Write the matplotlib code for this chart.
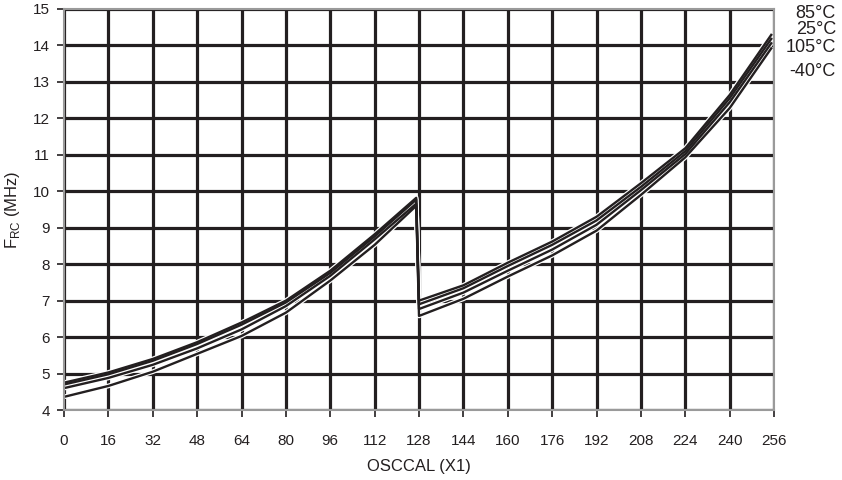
import matplotlib
matplotlib.use("Agg")
import matplotlib.pyplot as plt

plt.rcParams['font.family'] = ['Liberation Sans', 'DejaVu Sans']

# OSCCAL values (two ranges; the frequency drops back at 128)
osccal = [0, 16, 32, 48, 64, 80, 96, 112, 127,
          128, 144, 160, 176, 192, 208, 224, 240, 255]

freq_85 = [4.75, 5.03, 5.40, 5.86, 6.40, 7.00, 7.82, 8.82, 9.82,
           7.00, 7.42, 8.04, 8.62, 9.30, 10.22, 11.18, 12.64, 14.29]
freq_25 = [4.70, 4.98, 5.35, 5.81, 6.34, 6.95, 7.76, 8.76, 9.77,
           6.90, 7.34, 7.95, 8.53, 9.20, 10.12, 11.10, 12.55, 14.18]
freq_105 = [4.60, 4.88, 5.24, 5.69, 6.21, 6.85, 7.68, 8.68, 9.66,
            6.77, 7.22, 7.82, 8.40, 9.08, 10.03, 11.02, 12.44, 14.06]
freq_m40 = [4.36, 4.66, 5.05, 5.54, 6.03, 6.67, 7.55, 8.53, 9.60,
            6.58, 7.05, 7.66, 8.24, 8.92, 9.90, 10.93, 12.28, 13.92]

series = [freq_85, freq_25, freq_105, freq_m40]
labels = ['85°C', '25°C', '105°C', '-40°C']
label_y_px = [13, 30, 47, 72]

xticks = list(range(0, 257, 16))
yticks = list(range(4, 16))

ink = '#231f20'

fig = plt.figure(figsize=(8.42, 4.8), dpi=100)
ax = fig.add_axes([64/842, 1 - 410/480, (774 - 64)/842, (410 - 9)/480])

ax.set_xlim(0, 256)
ax.set_ylim(4, 15)
ax.set_xticks(xticks)
ax.set_yticks(yticks)
ax.grid(True, color=ink, linewidth=2.3)
ax.set_axisbelow(True)

# white halo under all curves, then black curves on top
for s in series:
    ax.plot(osccal, s, color='white', linewidth=3.4, solid_joinstyle='round',
            solid_capstyle='butt', zorder=2)
for s in series:
    ax.plot(osccal, s, color=ink, linewidth=1.7, solid_joinstyle='round',
            zorder=3)

for sp in ax.spines.values():
    sp.set_color('#9a9a9a')
    sp.set_linewidth(1.5)
    sp.set_zorder(4)

ax.tick_params(axis='x', direction='out', length=5, width=1.2, color=ink,
               labelsize=11, pad=12, labelcolor=ink)
ax.tick_params(axis='y', direction='out', length=5, width=1.2, color=ink,
               labelsize=11, pad=5, labelcolor=ink)

ax.set_xlabel('OSCCAL (X1)', fontsize=12, color=ink, labelpad=8)
ax.set_ylabel(r'F$_{\mathregular{RC}}$ (MHz)', fontsize=12, color=ink, labelpad=8)

for lab, ypx in zip(labels, label_y_px):
    fig.text(836/842, 1 - ypx/480, lab, ha='right', va='center',
             fontsize=13, color=ink)

fig.savefig('out.png', dpi=100)
